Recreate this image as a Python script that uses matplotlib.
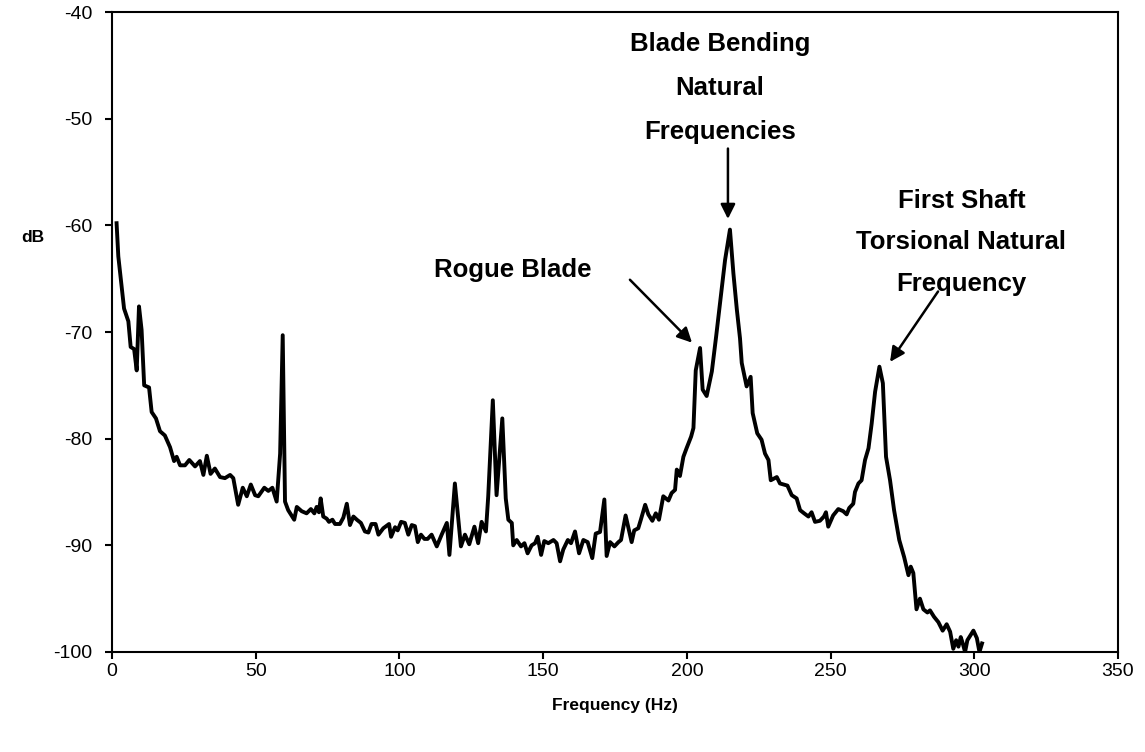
import matplotlib
matplotlib.use('Agg')
from matplotlib import pyplot as plt

plt.rcParams['font.family'] = ['Liberation Sans', 'DejaVu Sans']
plt.rcParams['axes.unicode_minus'] = False

# spectrum (Hz, dB)
freq = [1.6, 2.2, 4.2, 5.7, 6.5, 7.7, 8.6, 9.4, 10.3, 11.2, 12.9, 13.8, 15.3, 16.7,
        18.4, 20.2, 21.6, 22.5, 23.7, 25.4, 26.9, 28.9, 30.6, 31.8, 33.0, 34.3,
        35.8, 37.6, 39.3, 41.1, 42.2, 43.9, 45.5, 46.9, 48.3, 49.8, 50.9, 53.0,
        54.4, 55.8, 57.3, 58.5, 59.4, 60.2, 61.3, 63.4, 64.3, 66.0, 67.7, 69.2,
        70.4, 71.2, 72.0, 72.6, 73.5, 74.7, 75.5, 76.7, 77.6, 79.3, 80.5, 81.7,
        82.8, 84.0, 85.2, 86.6, 88.0, 89.2, 90.3, 91.7, 92.7, 94.4, 96.4, 97.1,
        98.5, 99.4, 100.6, 101.9, 103.1, 104.3, 105.4, 106.4, 107.5, 108.7, 109.8,
        111.2, 113.0, 114.7, 116.5, 117.4, 119.3, 121.4, 122.8, 124.3, 126.1,
        127.4, 128.6, 130.1, 130.9, 132.5, 133.8, 135.8, 137.0, 137.9, 139.1,
        139.6, 140.8, 142.3, 143.5, 144.6, 146.0, 147.2, 148.1, 149.3, 150.4,
        151.8, 153.6, 154.7, 155.9, 157.0, 158.6, 159.7, 161.1, 162.5, 164.0,
        165.5, 167.1, 168.3, 169.8, 171.3, 172.1, 173.3, 174.8, 176.2, 177.1,
        178.7, 180.8, 181.7, 183.1, 184.0, 185.5, 186.6, 188.0, 189.2, 190.3,
        191.8, 193.6, 194.7, 195.9, 196.5, 197.6, 198.8, 199.9, 201.5, 202.3,
        203.1, 204.6, 205.5, 206.9, 208.7, 210.2, 211.8, 213.3, 215.0, 216.2,
        217.4, 218.5, 219.1, 220.8, 222.2, 222.9, 224.5, 226.0, 227.2, 228.4,
        229.2, 231.3, 232.4, 235.0, 236.5, 238.2, 239.4, 240.8, 242.3, 243.4,
        244.6, 246.3, 247.7, 248.4, 249.2, 250.9, 252.7, 254.4, 255.6, 256.5,
        257.9, 258.5, 259.7, 260.8, 262.0, 263.2, 264.3, 265.5, 267.0, 268.2,
        269.3, 270.7, 272.1, 273.9, 275.6, 277.1, 277.9, 278.8, 279.9, 281.1,
        282.3, 283.7, 284.6, 286.0, 287.5, 289.0, 290.4, 291.6, 292.7, 293.7,
        294.5, 295.3, 296.0, 296.8, 297.6, 299.7, 300.9, 301.8, 302.7]
db = [-59.8, -62.9, -67.8, -69.0, -71.4, -71.6, -73.6, -67.6, -69.8, -75.0, -75.2,
      -77.5, -78.1, -79.3, -79.7, -80.8, -82.1, -81.7, -82.5, -82.5, -82.0, -82.6,
      -82.1, -83.4, -81.6, -83.3, -82.8, -83.6, -83.7, -83.4, -83.7, -86.2, -84.6,
      -85.4, -84.3, -85.3, -85.4, -84.6, -84.9, -84.6, -85.9, -81.4, -70.3, -85.9,
      -86.7, -87.6, -86.4, -86.8, -87.0, -86.6, -87.0, -86.4, -86.9, -85.6, -87.3,
      -87.5, -87.8, -87.6, -88.0, -88.0, -87.4, -86.1, -88.1, -87.3, -87.6, -87.9,
      -88.7, -88.8, -88.0, -88.0, -89.0, -88.4, -88.0, -89.2, -88.3, -88.6, -87.8,
      -87.9, -89.0, -88.1, -88.2, -89.7, -89.0, -89.4, -89.4, -89.0, -90.1, -89.0,
      -87.9, -90.9, -84.2, -90.1, -89.0, -89.9, -88.25, -89.8, -87.8, -88.7, -85.4,
      -76.4, -85.3, -78.1, -85.6, -87.6, -87.9, -90.0, -89.5, -90.1, -89.8, -90.75,
      -90.0, -89.8, -89.2, -90.9, -89.6, -89.8, -89.5, -89.8, -91.5, -90.4, -89.5,
      -89.8, -88.7, -90.75, -89.5, -89.7, -91.2, -88.9, -88.75, -85.7, -91.0, -89.7,
      -90.1, -89.7, -89.5, -87.2, -89.7, -88.6, -88.4, -87.6, -86.2, -87.1, -87.7,
      -87.0, -87.6, -85.4, -85.8, -85.1, -84.8, -82.9, -83.5, -81.7, -80.9, -79.8,
      -79.0, -73.6, -71.5, -75.4, -76.0, -73.7, -70.4, -66.7, -63.25, -60.4, -64.5,
      -67.9, -70.6, -72.9, -75.1, -74.2, -77.6, -79.5, -80.1, -81.4, -82.0, -83.9,
      -83.6, -84.2, -84.4, -85.3, -85.6, -86.7, -87.0, -87.3, -86.9, -87.8, -87.7,
      -87.3, -86.9, -88.25, -87.2, -86.6, -86.8, -87.1, -86.5, -86.1, -85.0, -84.2,
      -83.9, -82.0, -80.9, -78.6, -75.6, -73.25, -74.8, -81.7, -83.9, -86.7, -89.5,
      -91.1, -92.8, -92.0, -92.6, -96.0, -95.0, -96.0, -96.3, -96.1, -96.7, -97.2,
      -98.0, -97.4, -98.1, -99.7, -98.9, -99.5, -98.6, -99.2, -100.0, -98.9, -98.0,
      -98.7, -100.0, -99.2]

x_ticks = [0, 50, 100, 150, 200, 250, 300, 350]
y_ticks = [-100, -90, -80, -70, -60, -50, -40]

fig = plt.figure(figsize=(11.45, 7.52), dpi=100)
ax = fig.add_axes([0.0978, 0.133, 0.8786, 0.851])

ax.plot(freq, db, color='black', lw=2.8, solid_joinstyle='round')
ax.set_xlim(0, 350)
ax.set_ylim(-100, -40)
ax.set_xticks(x_ticks)
ax.set_yticks(y_ticks)
ax.tick_params(labelsize=14, width=1.5, length=5)
ax.tick_params(axis='x', pad=3)
ax.tick_params(axis='y', pad=9)
for s in ax.spines.values():
    s.set_linewidth(1.5)

ax.set_xlabel('Frequency (Hz)', fontsize=12.5, fontweight='bold', labelpad=13)
ax.set_ylabel('dB', fontsize=12.5, fontweight='bold', rotation=0,
              ha='center', va='center')
ax.yaxis.set_label_coords(-0.0785, 0.647)

arr = dict(arrowstyle='-|>', color='black', lw=1.8, mutation_scale=22, shrinkA=0, shrinkB=0)
ax.text(211.6, -47.1, 'Blade Bending\nNatural\nFrequencies', ha='center', va='center',
        fontsize=18.5, fontweight='bold', linespacing=2.05)
ax.annotate('', xy=(214.3, -59.4), xytext=(214.3, -52.8), arrowprops=arr)
ax.text(139.5, -64.2, 'Rogue Blade', ha='center', va='center',
        fontsize=18.5, fontweight='bold')
ax.annotate('', xy=(201.8, -71.0), xytext=(180.2, -65.1), arrowprops=arr)
ax.text(295.5, -61.6, 'First Shaft\nTorsional Natural\nFrequency', ha='center', va='center',
        fontsize=18.5, fontweight='bold', linespacing=1.9)
ax.annotate('', xy=(270.7, -72.8), xytext=(287.4, -66.2), arrowprops=arr)

fig.savefig('out.png', dpi=100)
